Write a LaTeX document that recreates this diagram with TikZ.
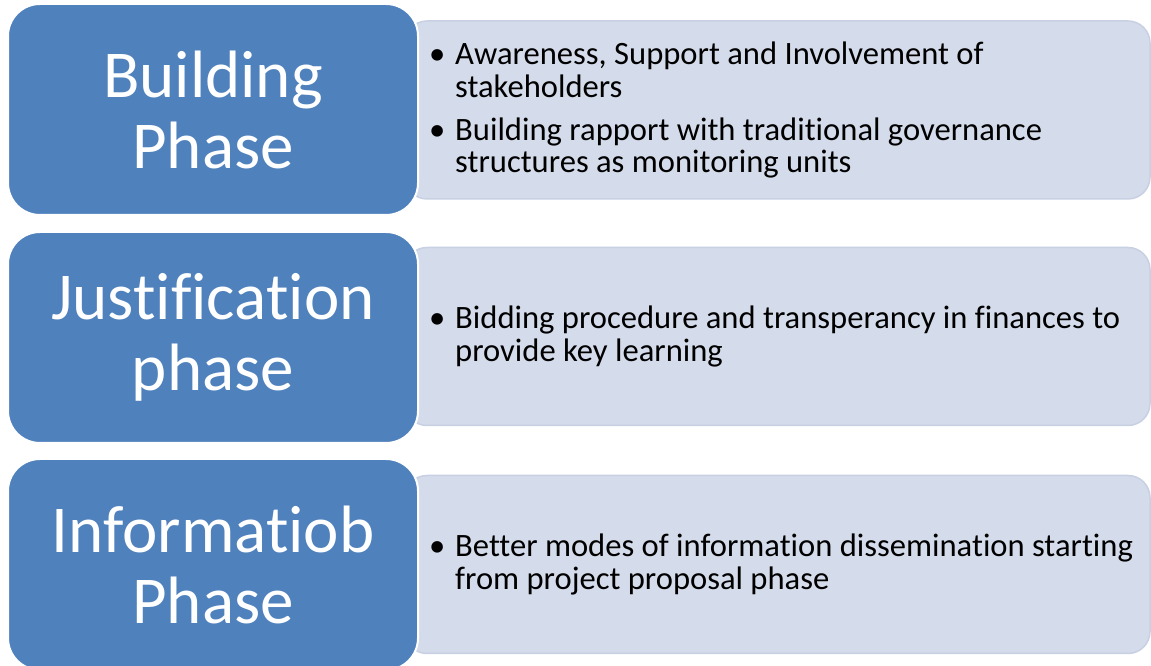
\documentclass[tikz,border=0pt]{standalone}
\usepackage{fontspec}
\setmainfont{Carlito}[Ligatures={TeX,NoCommon}]

\definecolor{phaseblue}{HTML}{4F81BD}
\definecolor{detailfill}{HTML}{D4DBEA}
\definecolor{detailedge}{HTML}{C8D0E3}

\tikzset{
  phase/.style={draw=white, line width=2pt, fill=phaseblue,
    rounded corners=32pt, minimum width=410pt, minimum height=211pt,
    text=white, align=center, font=\fontsize{67}{71}\selectfont},
  detail/.style={draw=detailedge, line width=1.5pt, fill=detailfill,
    rounded corners=22pt, minimum width=745pt, minimum height=178pt},
  points/.style={anchor=west, align=left, text=black, inner sep=0pt,
    font=\fontsize{32.6}{32.5}\selectfont},
}

\newcommand{\bul}{\makebox[26pt][l]{\textbullet}}
\newcommand{\ind}{\hspace*{26pt}}

\begin{document}
\begin{tikzpicture}[x=1pt,y=1pt]

\useasboundingbox (0,0) rectangle (1151,666);
\clip (0,0) rectangle (1151,666);

% Building phase
\node[detail] (buildbox) at (777.5,556) {};
\node[phase] (build) at (213,556.5) {Building\\Phase};
\node[points] (buildtext) at (429,556)
{\bul Awareness, Support and Involvement of\\
\ind stakeholders\\[10.5pt]
\bul Building rapport with traditional governance\\
\ind structures as monitoring units};

% Justification phase
\node[detail] (justbox) at (777.5,329.5) {};
\node[phase] (just) at (213,328.5) {Justification\\phase};
\node[points] (justtext) at (429,329.5)
{\bul Bidding procedure and transperancy in finances to\\
\ind provide key learning};

% Information phase
\node[detail] (infobox) at (777.5,101.5) {};
\node[phase] (info) at (213,101.5) {Informatiob\\Phase};
\node[points] (infotext) at (429,101.5)
{\bul Better modes of information dissemination starting\\
\ind from project proposal phase};

\end{tikzpicture}
\end{document}
